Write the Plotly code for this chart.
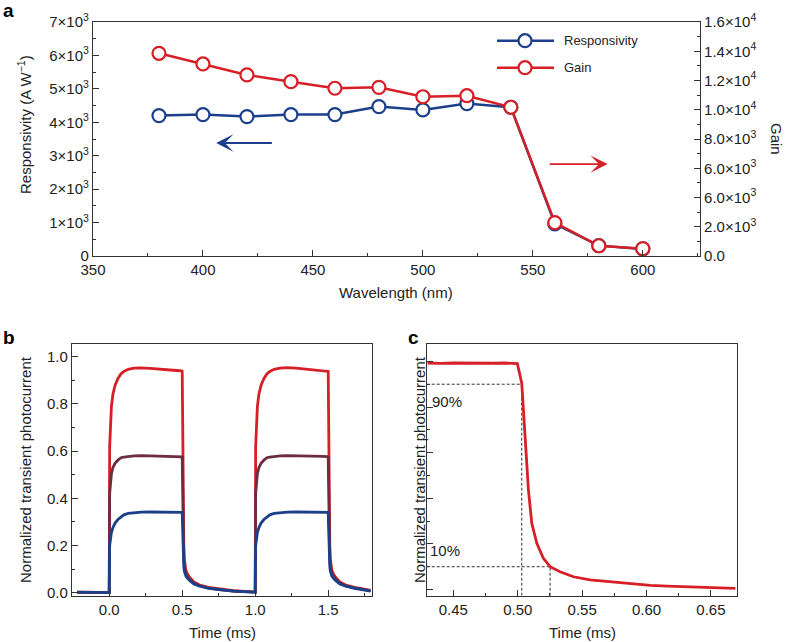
import plotly.graph_objects as go

# ---------- panel a : spectral response ----------
wavelength = [380, 400, 420, 440, 460, 480, 500, 520, 540, 560, 580, 600]
responsivity = [4200, 4230, 4170, 4230, 4230, 4470, 4370, 4560, 4450, 960, 310, 210]
gain = [13860, 13130, 12380, 11920, 11470, 11530, 10890, 10960, 10170, 2280, 700, 500]

resp_tickvals = [0, 1000, 2000, 3000, 4000, 5000, 6000, 7000]
resp_ticktext = ["0"] + [f"{k}×10<sup>3</sup>" for k in range(1, 8)]
gain_tickvals = [0, 2000, 4000, 6000, 8000, 10000, 12000, 14000, 16000]
gain_ticktext = ["0.0", "2.0×10<sup>3</sup>", "6.0×10<sup>3</sup>", "6.0×10<sup>3</sup>",
                 "8.0×10<sup>3</sup>", "1.0×10<sup>4</sup>", "1.2×10<sup>4</sup>",
                 "1.4×10<sup>4</sup>", "1.6×10<sup>4</sup>"]

# ---------- panel b : transient photocurrent (3 intensities) ----------
time_b = [-0.22, -0.15, -0.08, -0.01, 0.0, 0.003, 0.008, 0.015, 0.025, 0.04, 0.06, 0.08,
          0.1, 0.13, 0.17, 0.22, 0.28, 0.34, 0.4, 0.46, 0.497,
          0.5, 0.502, 0.505, 0.508, 0.511, 0.515, 0.52, 0.525, 0.535, 0.55, 0.58, 0.62,
          0.68, 0.75, 0.85, 0.95, 0.997,
          1.0, 1.003, 1.008, 1.015, 1.025, 1.04, 1.06, 1.08,
          1.1, 1.13, 1.17, 1.22, 1.28, 1.34, 1.4, 1.46, 1.497,
          1.5, 1.502, 1.505, 1.508, 1.511, 1.515, 1.52, 1.525, 1.535, 1.55, 1.58, 1.62,
          1.68, 1.75, 1.79]
photo_high = [0.002, 0.0, 0.001, 0.0, 0.0, 0.62, 0.72, 0.79, 0.84, 0.88, 0.908, 0.927,
              0.938, 0.947, 0.952, 0.953, 0.951, 0.949, 0.946, 0.942, 0.94,
              0.938, 0.80, 0.50, 0.30, 0.20, 0.14, 0.11, 0.095, 0.08, 0.065, 0.045, 0.032,
              0.022, 0.015, 0.008, 0.004, 0.003,
              0.003, 0.62, 0.72, 0.79, 0.84, 0.88, 0.908, 0.927,
              0.938, 0.947, 0.952, 0.954, 0.952, 0.949, 0.946, 0.942, 0.94,
              0.938, 0.80, 0.50, 0.30, 0.20, 0.14, 0.11, 0.095, 0.08, 0.065, 0.045, 0.032,
              0.022, 0.014, 0.01]
photo_mid = [0.001, 0.0, 0.0, 0.001, 0.0, 0.42, 0.47, 0.505, 0.53, 0.548, 0.562, 0.572,
             0.575, 0.578, 0.58, 0.581, 0.58, 0.58, 0.579, 0.578, 0.577,
             0.576, 0.48, 0.31, 0.20, 0.14, 0.11, 0.09, 0.08, 0.07, 0.058, 0.04, 0.029,
             0.02, 0.013, 0.007, 0.003, 0.002,
             0.002, 0.42, 0.47, 0.505, 0.53, 0.548, 0.562, 0.572,
             0.575, 0.578, 0.58, 0.581, 0.581, 0.58, 0.579, 0.578, 0.577,
             0.576, 0.48, 0.31, 0.20, 0.14, 0.11, 0.09, 0.08, 0.07, 0.058, 0.04, 0.029,
             0.02, 0.013, 0.009]
photo_low = [0.002, 0.0, 0.001, 0.0, 0.0, 0.20, 0.235, 0.255, 0.275, 0.295, 0.31, 0.322,
             0.33, 0.336, 0.339, 0.341, 0.342, 0.342, 0.341, 0.341, 0.34,
             0.34, 0.29, 0.20, 0.14, 0.11, 0.09, 0.078, 0.07, 0.062, 0.052, 0.037, 0.027,
             0.018, 0.012, 0.006, 0.003, 0.001,
             0.001, 0.20, 0.235, 0.255, 0.275, 0.295, 0.31, 0.322,
             0.33, 0.336, 0.339, 0.341, 0.342, 0.342, 0.341, 0.341, 0.34,
             0.34, 0.29, 0.20, 0.14, 0.11, 0.09, 0.078, 0.07, 0.062, 0.052, 0.037, 0.027,
             0.018, 0.012, 0.006]

# ---------- panel c : fall edge ----------
time_c = [0.43, 0.44, 0.45, 0.46, 0.47, 0.48, 0.49, 0.4997, 0.5031, 0.5057, 0.5083,
          0.5109, 0.5148, 0.5199, 0.5251, 0.5328, 0.5432, 0.5561, 0.5717, 0.579, 0.59,
          0.603, 0.616, 0.629, 0.642, 0.655, 0.669]
photo_c = [0.993, 0.991, 0.993, 0.992, 0.994, 0.992, 0.993, 0.99, 0.904, 0.656, 0.436,
           0.29, 0.203, 0.137, 0.10, 0.078, 0.056, 0.042, 0.034, 0.028, 0.022,
           0.018, 0.015, 0.013, 0.010, 0.008, 0.005]
level_90, level_10 = 0.9, 0.1
t_90, t_10 = 0.5031, 0.5251

RED = "#d61f26"
BLUE = "#1b3f8b"
PURPLE = "#6e2c3f"
AXIS = "#333333"
FONT = "Arial, Liberation Sans, sans-serif"

W, H = 786, 642


def px_x(p):
    return p / W


def px_y(p):
    return 1 - p / H


fig = go.Figure()

# panel a
fig.add_trace(go.Scatter(
    x=wavelength, y=responsivity, mode="lines+markers",
    line=dict(color=BLUE, width=2.5),
    marker=dict(symbol="circle", size=13, color="white", line=dict(color=BLUE, width=2.2)),
    xaxis="x", yaxis="y", showlegend=False,
))
fig.add_trace(go.Scatter(
    x=wavelength, y=gain, mode="lines+markers",
    line=dict(color=RED, width=2.5),
    marker=dict(symbol="circle", size=13, color="white", line=dict(color=RED, width=2.2)),
    xaxis="x", yaxis="y2", showlegend=False,
))

# panel b
for ys, col in [(photo_high, RED), (photo_mid, PURPLE), (photo_low, BLUE)]:
    fig.add_trace(go.Scatter(
        x=time_b, y=ys, mode="lines", line=dict(color=col, width=2.8),
        xaxis="x2", yaxis="y3", showlegend=False,
    ))

# panel c : guide lines then curve
c_xmin, c_ymin = 0.4293, -0.027
for xs, ys in [
    ([c_xmin, t_90], [level_90, level_90]),
    ([t_90, t_90], [c_ymin, level_90]),
    ([c_xmin, t_10], [level_10, level_10]),
    ([t_10, t_10], [c_ymin, level_10]),
]:
    fig.add_trace(go.Scatter(
        x=xs, y=ys, mode="lines", line=dict(color="#333333", width=1, dash="3px,2px"),
        xaxis="x3", yaxis="y4", showlegend=False,
    ))
fig.add_trace(go.Scatter(
    x=time_c, y=photo_c, mode="lines", line=dict(color=RED, width=2.8),
    xaxis="x3", yaxis="y4", showlegend=False,
))

tick_font = dict(family=FONT, size=15, color="#222222")
common = dict(
    showline=True, linecolor=AXIS, linewidth=1.2, mirror=True,
    ticks="inside", ticklen=6, tickcolor=AXIS, tickwidth=1.2,
    showgrid=False, zeroline=False, tickfont=tick_font, automargin=False,
)

fig.update_layout(
    template="none",
    width=W, height=H,
    margin=dict(l=0, r=0, t=0, b=0, autoexpand=False),
    paper_bgcolor="white", plot_bgcolor="white",
    font=dict(family=FONT, color="#222222"),
    xaxis=dict(domain=[px_x(93), px_x(700)], range=[350, 626], anchor="y",
               tickvals=[350, 400, 450, 500, 550, 600],
               minor=dict(dtick=25, tick0=350, ticks="inside", ticklen=3, tickcolor=AXIS),
               **common),
    yaxis=dict(domain=[px_y(256), px_y(22)], range=[0, 7000], anchor="x",
               tickvals=resp_tickvals, ticktext=resp_ticktext,
               minor=dict(dtick=500, ticks="inside", ticklen=3, tickcolor=AXIS),
               **common),
    yaxis2=dict(overlaying="y", side="right", range=[0, 16000], anchor="x",
                tickvals=gain_tickvals, ticktext=gain_ticktext,
                minor=dict(dtick=1000, ticks="inside", ticklen=3, tickcolor=AXIS),
                **common),
    xaxis2=dict(domain=[px_x(72), px_x(372)], range=[-0.255, 1.80], anchor="y3",
                tickvals=[0, 0.5, 1.0, 1.5], tickformat=".1f",
                minor=dict(dtick=0.25, tick0=0, ticks="inside", ticklen=3, tickcolor=AXIS),
                **common),
    yaxis3=dict(domain=[px_y(595.7), px_y(344.3)], range=[-0.013, 1.053], anchor="x2",
                tickvals=[0, 0.2, 0.4, 0.6, 0.8, 1.0], tickformat=".1f",
                minor=dict(dtick=0.1, tick0=0, ticks="inside", ticklen=3, tickcolor=AXIS),
                **common),
    xaxis3=dict(domain=[px_x(426.7), px_x(736.7)], range=[c_xmin, 0.670], anchor="y4",
                tickvals=[0.45, 0.50, 0.55, 0.60, 0.65], tickformat=".2f",
                minor=dict(dtick=0.025, tick0=0.45, ticks="inside", ticklen=3, tickcolor=AXIS),
                **common),
    yaxis4=dict(domain=[px_y(595.7), px_y(344.3)], range=[c_ymin, 1.075], anchor="x3",
                dtick=0.2, tick0=0, showticklabels=False,
                minor=dict(dtick=0.1, tick0=0, ticks="inside", ticklen=3, tickcolor=AXIS),
                **common),
)

# custom legend for panel a
shapes = []
annotations = []
for ypx, col, label in [(40.7, BLUE, "Responsivity"), (67.7, RED, "Gain")]:
    shapes.append(dict(type="line", xref="paper", yref="paper",
                       x0=px_x(497), x1=px_x(554), y0=px_y(ypx), y1=px_y(ypx),
                       line=dict(color=col, width=2.5)))
    shapes.append(dict(type="circle", xref="paper", yref="paper",
                       xsizemode="pixel", ysizemode="pixel",
                       xanchor=px_x(525), yanchor=px_y(ypx),
                       x0=-6.5, x1=6.5, y0=-6.5, y1=6.5,
                       fillcolor="white", line=dict(color=col, width=2.2)))
    annotations.append(dict(x=px_x(562), y=px_y(ypx), xref="paper", yref="paper",
                            text=label, showarrow=False, xanchor="left", yanchor="middle",
                            font=dict(size=13, color="#222222")))

# arrows pointing to the axis each series belongs to
annotations.append(dict(x=406, y=3380, ax=432, ay=3380, xref="x", yref="y", axref="x", ayref="y",
                        text="", showarrow=True, arrowhead=3, arrowsize=1.6, arrowwidth=1.8,
                        arrowcolor=BLUE))
annotations.append(dict(x=584, y=2750, ax=557, ay=2750, xref="x", yref="y", axref="x", ayref="y",
                        text="", showarrow=True, arrowhead=3, arrowsize=1.6, arrowwidth=1.8,
                        arrowcolor=RED))

# axis titles (pixel positions of their centres)
title_font = dict(size=15, color="#222222")
titles = [
    (396, 292, "Wavelength (nm)", 0),
    (25, 125, "Responsivity (A W<sup>−1</sup>)", -90),
    (776, 139, "Gain", 90),
    (222, 632, "Time (ms)", 0),
    (582, 632, "Time (ms)", 0),
    (25, 470, "Normalized transient photocurrent", -90),
    (419, 470, "Normalized transient photocurrent", -90),
]
for xp, yp, text, ang in titles:
    annotations.append(dict(x=px_x(xp), y=px_y(yp), xref="paper", yref="paper", text=text,
                            textangle=ang, showarrow=False, xanchor="center", yanchor="middle",
                            font=title_font))

# panel c percent labels
for tx, ty, text in [(0.4454, 0.824, "90%"), (0.4434, 0.17, "10%")]:
    annotations.append(dict(x=tx, y=ty, xref="x3", yref="y4", text=text, showarrow=False,
                            xanchor="center", yanchor="middle",
                            font=dict(size=15, color="#222222")))

# panel letters
for letter, xp, yp in [("a", 8, 11), ("b", 9, 337), ("c", 413, 337)]:
    annotations.append(dict(x=px_x(xp), y=px_y(yp), xref="paper", yref="paper",
                            text=f"<b>{letter}</b>", showarrow=False,
                            xanchor="center", yanchor="middle",
                            font=dict(size=19, color="black")))

fig.update_layout(shapes=shapes, annotations=annotations)

# the page body has a default 8px margin; drop it so the figure sits at the window corner
fig.write_html("out.html", config={"displayModeBar": False},
               post_script="document.body.style.margin='0';")
